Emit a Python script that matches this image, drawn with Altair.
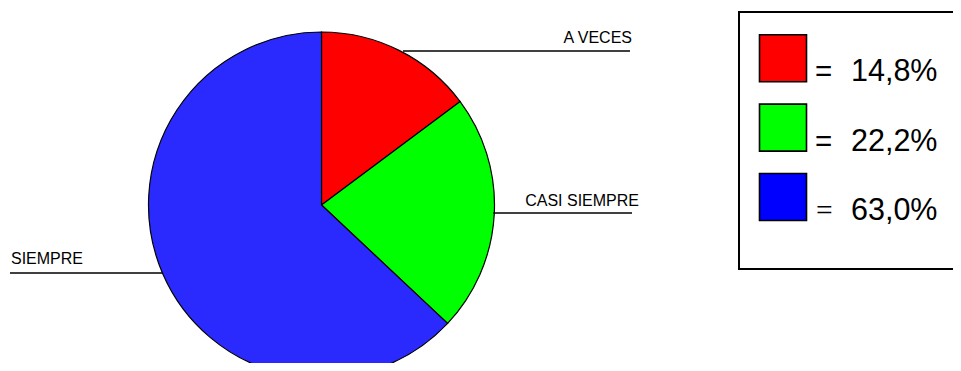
import altair as alt
import pandas as pd

categories = ["A VECES", "CASI SIEMPRE", "SIEMPRE"]
values = [14.8, 22.2, 63.0]
pct_labels = ["14,8%", "22,2%", "63,0%"]
pie_colors = ["#ff0000", "#00ff00", "#2a2aff"]
legend_colors = ["#ff0000", "#00ff00", "#0000ff"]

df = pd.DataFrame({
    "category": categories,
    "value": values,
    "idx": list(range(len(categories))),
    "pct": pct_labels,
})

W, H = 945, 355
FONT = "Liberation Sans"

pie = alt.Chart(df).mark_arc(outerRadius=173, stroke="black", strokeWidth=1.2).encode(
    theta=alt.Theta("value:Q", stack=True),
    order=alt.Order("idx:Q"),
    color=alt.Color("category:N", scale=alt.Scale(domain=categories, range=pie_colors), legend=None),
    x=alt.value(313.5),
    y=alt.value(197),
)

def label(cat, tx, ty, align, lx1, lx2, ly):
    sub = alt.Chart(df).transform_filter(alt.datum.category == cat)
    t = sub.mark_text(font=FONT, fontSize=16, align=align, baseline="alphabetic", color="black").encode(
        text="category:N", x=alt.value(tx), y=alt.value(ty))
    r = sub.mark_rule(color="black", strokeWidth=1.3).encode(
        x=alt.value(lx1), x2=alt.value(lx2), y=alt.value(ly))
    return t + r

lab1 = label("A VECES", 624, 35, "right", 395, 622, 43)
lab2 = label("CASI SIEMPRE", 631, 198, "right", 485, 624, 205)
lab3 = label("SIEMPRE", 3, 256, "left", 2, 155, 265)

box = alt.Chart(df).transform_filter(alt.datum.idx == 0).mark_rect(
    fill="white", stroke="black", strokeWidth=2).encode(
    x=alt.value(731), x2=alt.value(960), y=alt.value(4), y2=alt.value(261))

yscale = alt.Scale(domain=[0, 2], range=[50.3, 189])
leg = alt.Chart(df)
squares = leg.mark_square(size=47 * 47, opacity=1, stroke="black", strokeWidth=1.6).encode(
    x=alt.value(775),
    y=alt.Y("idx:Q", scale=yscale, axis=None),
    fill=alt.Fill("category:N", scale=alt.Scale(domain=categories, range=legend_colors), legend=None),
)
eq_sans = leg.transform_filter(alt.datum.idx < 2).mark_text(
    font=FONT, fontSize=29.5, align="left", baseline="alphabetic", dy=23, color="black", text="=").encode(
    x=alt.value(807),
    y=alt.Y("idx:Q", scale=yscale, axis=None),
)
eq_serif = leg.transform_filter(alt.datum.idx == 2).mark_text(
    font="Liberation Serif", fontSize=29.5, align="left", baseline="alphabetic", dy=23, color="black", text="=").encode(
    x=alt.value(808),
    y=alt.Y("idx:Q", scale=yscale, axis=None),
)
pct = leg.mark_text(font=FONT, fontSize=30.5, align="left", baseline="alphabetic", dy=23, color="black").encode(
    x=alt.value(843),
    y=alt.Y("idx:Q", scale=yscale, axis=None),
    text="pct:N",
)

chart = alt.layer(pie, lab1, lab2, lab3, box, squares, eq_sans, eq_serif, pct).resolve_scale(
    color="independent", fill="independent"
).properties(
    width=W, height=H, autosize=alt.AutoSizeParams(type="none"), padding=0
).configure_view(stroke=None)

chart.save("out.html", embed_options={"renderer": "svg", "actions": False})
